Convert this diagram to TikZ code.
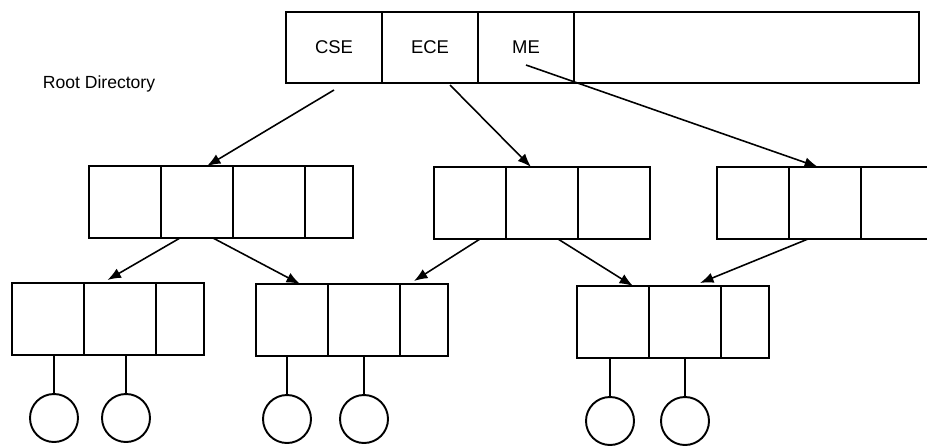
\documentclass[tikz,border=0pt]{standalone}
\usepackage{fontspec}
\setmainfont{Liberation Sans}
\usetikzlibrary{positioning,arrows.meta}
\begin{document}
\begin{tikzpicture}[cell/.style={draw, line width=1.1pt, minimum width=1.44cm, minimum height=1.44cm, inner sep=0pt, outer sep=0pt, anchor=north west},
  small/.style={cell, minimum width=0.96cm},
  topcell/.style={cell, minimum width=1.92cm, minimum height=1.42cm, font=\fontsize{10.5}{12}\selectfont},
  leaf/.style={draw, circle, line width=1.1pt, minimum size=0.96cm, inner sep=0pt, outer sep=0pt},
  arr/.style={line width=0.9pt, -{Latex[length=0.27cm,width=0.21cm]}}]
\clip (0,0) rectangle (18.54,8.94);
% root directory
\node[topcell] (cse) at (5.72,8.70) {CSE};
\node[topcell, right=0pt of cse] (ece) {ECE};
\node[topcell, right=0pt of ece] (me) {ME};
\node[topcell, minimum width=6.9cm, right=0pt of me] (rest) {};
\node[font=\fontsize{10}{12}\selectfont] (root) at (1.98,7.26) {Root Directory};
% second level
\node[cell] (m1a) at (1.78,5.62) {};
\node[cell, right=0pt of m1a] (m1b) {};
\node[cell, right=0pt of m1b] (m1c) {};
\node[small, right=0pt of m1c] (m1d) {};
\node[cell] (m2a) at (8.68,5.60) {};
\node[cell, right=0pt of m2a] (m2b) {};
\node[cell, right=0pt of m2b] (m2c) {};
\node[cell] (m3a) at (14.34,5.60) {};
\node[cell, right=0pt of m3a] (m3b) {};
\node[cell, right=0pt of m3b] (m3c) {};
% third level
\node[cell] (b1a) at (0.24,3.28) {};
\node[cell, right=0pt of b1a] (b1b) {};
\node[small, right=0pt of b1b] (b1c) {};
\node[cell] (b2a) at (5.12,3.26) {};
\node[cell, right=0pt of b2a] (b2b) {};
\node[small, right=0pt of b2b] (b2c) {};
\node[cell] (b3a) at (11.54,3.22) {};
\node[cell, right=0pt of b3a] (b3b) {};
\node[small, right=0pt of b3b] (b3c) {};
% files
\node[leaf, below=0.78cm of b1a, xshift=0.12cm] (f1) {};
\node[leaf, below=0.78cm of b1b, xshift=0.12cm] (f2) {};
\node[leaf, below=0.78cm of b2a, xshift=-0.1cm] (f3) {};
\node[leaf, below=0.78cm of b2b] (f4) {};
\node[leaf, below=0.78cm of b3a, xshift=-0.06cm] (f5) {};
\node[leaf, below=0.78cm of b3b] (f6) {};
\draw[line width=1.1pt] (f1) -- (f1 |- b1a.south) (f2) -- (f2 |- b1b.south) (f3) -- (f3 |- b2a.south)
  (f4) -- (f4 |- b2b.south) (f5) -- (f5 |- b3a.south) (f6) -- (f6 |- b3b.south);
% pointers
\draw[arr] ([yshift=-0.14cm]cse.south) -- ([xshift=0.2cm]m1b.north);
\draw[arr] ([xshift=0.4cm,yshift=-0.04cm]ece.south) -- ([xshift=-0.22cm]m2b.north);
\draw[arr] ([yshift=-0.35cm]me.center) -- ([xshift=-0.14cm]m3b.north);
\draw[arr] ([xshift=-0.34cm]m1b.south) -- ([xshift=-0.25cm,yshift=0.06cm]b1b.north);
\draw[arr] ([xshift=0.32cm]m1b.south) -- ([xshift=0.16cm]b2a.north);
\draw[arr] ([xshift=0.2cm]m2a.south) -- ([xshift=-0.2cm,yshift=0.06cm]b2c.north);
\draw[arr] ([xshift=0.32cm]m2b.south) -- ([xshift=0.4cm]b3a.north);
\draw[arr] ([xshift=-0.34cm]m3b.south) -- ([xshift=0.3cm,yshift=0.06cm]b3b.north);
\end{tikzpicture}
\end{document}
